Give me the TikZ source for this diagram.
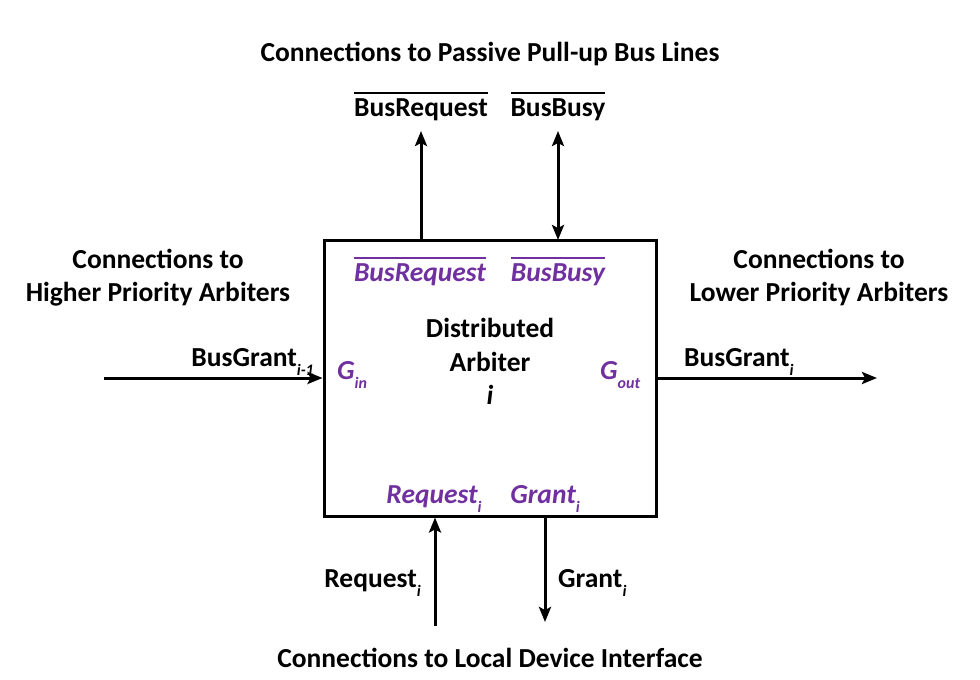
\documentclass[tikz,border=0pt]{standalone}
\usepackage{fontspec}
\setmainfont{Carlito}
\usetikzlibrary{arrows.meta}
\definecolor{purp}{HTML}{7030A0}
\newcommand\ovl[1]{\setbox0\hbox{#1}\rlap{\raisebox{\dimexpr\ht0+4pt\relax}{\rule{\wd0}{2.4pt}}}\box0}
\newcommand\lowidx[1]{\raisebox{-0.35em}{\fontsize{16}{16}\selectfont\itshape #1}}
\tikzset{
  mytip/.tip={Stealth[length=15pt,width=12pt,inset=3pt]},
  lbl/.style={font=\fontsize{27.5}{33}\selectfont\bfseries, inner sep=0pt, anchor=base},
  plbl/.style={lbl, text=purp, font=\fontsize{27.5}{33}\selectfont\bfseries\itshape},
  wire/.style={line width=3pt, -{mytip}},
  wire2/.style={line width=3pt, {mytip}-{mytip}},
  arbox/.style={draw, line width=3pt, minimum width=332pt, minimum height=276pt, inner sep=0pt}
}
\begin{document}
\begin{tikzpicture}[x=1pt,y=-1pt]
\useasboundingbox (0,0) rectangle (980,680);
\node[arbox] (box) at (490,378) {};
% titles
\node[lbl] (ttop) at (490,61) {Connections to Passive Pull-up Bus Lines};
\node[lbl] (tbot) at (490,667) {Connections to Local Device Interface};
\node[lbl, align=center] (thigh) at (158,301) {Connections to\\Higher Priority Arbiters};
\node[lbl, align=center] (tlow) at (819,301) {Connections to\\Lower Priority Arbiters};
% top bus lines
\node[lbl] (breq) at (421,116) {\ovl{BusRequest}};
\node[lbl] (bbusy) at (558,116) {\ovl{BusBusy}};
\coordinate (breqT) at (421,131);
\coordinate (bbusyT) at (558,131);
\coordinate (breqB) at (421,240);
\coordinate (bbusyB) at (558,240);
\draw[wire] (breqB) -- (breqT);
\draw[wire2] (bbusyB) -- (bbusyT);
% inner labels
\node[plbl] (ibreq) at (420,281) {\ovl{BusRequest}};
\node[plbl] (ibbusy) at (558,281) {\ovl{BusBusy}};
\node[lbl] (dist) at (490,337) {Distributed};
\node[lbl] (arb) at (490,371) {Arbiter};
\node[lbl, font=\fontsize{27.5}{33}\selectfont\bfseries\itshape] (ii) at (490,404) {i};
\node[plbl, anchor=base west] (gin) at (337,379) {G\lowidx{in}};
\node[plbl, anchor=base west] (gout) at (600,379) {G\lowidx{out}};
\node[plbl] (ireq) at (434,503) {Request\lowidx{i}};
\node[plbl] (igrant) at (545,503) {Grant\lowidx{i}};
% left/right
\coordinate (lin) at (104,378);
\coordinate (rout) at (877,378);
\draw[wire] (lin) -- (box.west |- lin);
\draw[wire] (box.east |- rout) -- (rout);
\node[lbl, anchor=base east] (bgl) at (314,366) {BusGrant\lowidx{i-1}};
\node[lbl, anchor=base west] (bgr) at (684,366) {BusGrant\lowidx{i}};
% bottom
\coordinate (reqB) at (435,626);
\coordinate (grB) at (545,622);
\draw[wire] (reqB) -- (box.south -| reqB);
\draw[wire] (box.south -| grB) -- (grB);
\node[lbl, anchor=base east] (req) at (421,587) {Request\lowidx{i}};
\node[lbl, anchor=base west] (gr) at (558,587) {Grant\lowidx{i}};
\end{tikzpicture}
\end{document}
